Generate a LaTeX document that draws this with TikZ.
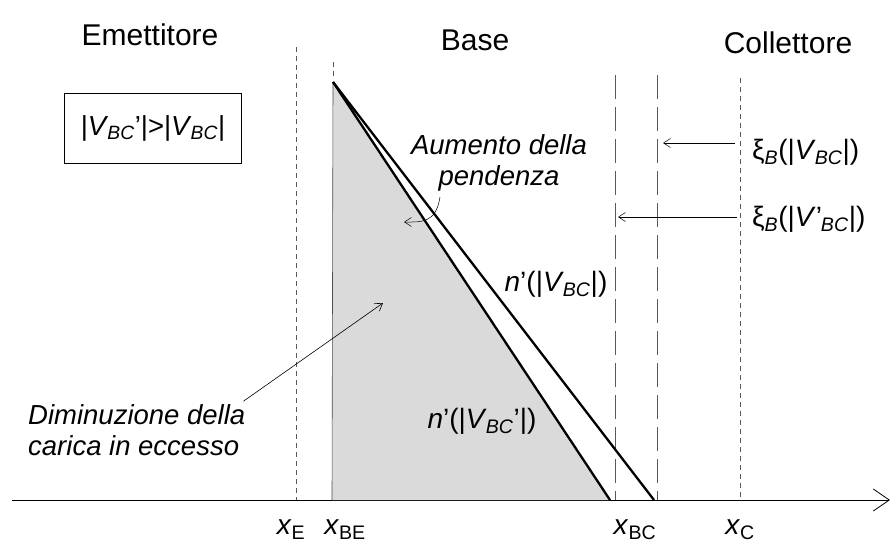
\documentclass[tikz,border=0pt]{standalone}
\usepackage{fontspec}
\setmainfont{Liberation Sans}
\usetikzlibrary{arrows.meta, positioning}
\definecolor{chargegray}{RGB}{218, 218, 218}
\newcommand{\Vbc}{\textit{V}\textsubscript{\kern-1pt\textit{BC}}}

\begin{document}
\begin{tikzpicture}[x=1pt, y=-1pt, >={Straight Barb[length=7pt, width=9pt]},
    every node/.style={font=\fontsize{28}{32}\selectfont, inner sep=0pt},
    region/.style={font=\fontsize{30}{34}\selectfont},
    note/.style={font=\fontsize{27.5}{31}\selectfont\itshape},
    shortdash/.style={gray!70!black, line width=0.6pt, dash pattern=on 5pt off 4pt},
    longdash/.style={gray!70!black, line width=0.7pt, dash pattern=on 24pt off 8pt},
    profile/.style={line width=2.3pt}]
  \useasboundingbox (0,0) rectangle (891,547);

  % regioni
  \node[region] (emit) at (150,35) {Emettitore};
  \node[region] (base) at (475,40) {Base};
  \node[region] (coll) at (788,43) {Collettore};
  \node[draw, line width=0.6pt, minimum width=177pt, minimum height=70pt,
        font=\fontsize{27.5}{32}\selectfont] (cond) at (153,128) {|\Vbc'|>|\Vbc|};

  % asse x
  \coordinate (orig) at (12,500);
  \coordinate (tip) at (890,500);
  \draw[line width=0.8pt, -{Straight Barb[length=16pt, width=22pt]}] (orig) -- (tip);

  % posizioni delle giunzioni
  \draw[shortdash] (296,47) -- (296,500);
  \draw[shortdash] (333,62) -- (333,78);
  \draw[longdash] (615,75) -- (615,500);
  \draw[longdash] (657,75) -- (657,500);
  \draw[shortdash] (740,78) -- (740,500);
  \foreach \n/\s/\x in {xE/E/291, xBE/BE/345, xBC/BC/635, xC/C/740}{
    \node (lab\n) at (\x,530) {\textit{x}\textsubscript{\s}};
  }

  % profili di carica
  \coordinate (apex) at (333,82);
  \coordinate (endin) at (610,500);
  \coordinate (endout) at (654,500);
  \coordinate (foot) at (332,500);
  \fill[chargegray] (apex) -- (endin) -- (foot) -- cycle;
  \draw[gray!60!black, line width=0.6pt] (apex) -- (foot);
  \draw[profile] (apex) -- (endin);
  \draw[profile] (apex) -- (endout);
  \node (nout) at (556,284) {\textit{n}'(|\Vbc|)};
  \node (nin) at (482,421) {\textit{n}'(|\Vbc'|)};

  % larghezza della base
  \node[anchor=west] (xi1) at (752,152) {ξ\textsubscript{\textit{B}}(|\Vbc|)};
  \node[anchor=west] (xi2) at (752,219) {ξ\textsubscript{\textit{B}}(|\textit{V}'\textsubscript{\kern-1pt\textit{BC}}|)};
  \coordinate (s1) at (735,143);
  \coordinate (w1) at (663,143);
  \coordinate (s2) at (737,217);
  \coordinate (w2) at (618,217);
  \draw[->, line width=0.5pt] (s1) -- (w1);
  \draw[->, line width=0.5pt] (s2) -- (w2);

  % commenti
  \node[note, align=center] (aum) at (499,163) {Aumento della\\pendenza};
  \coordinate (hook) at (440,197);
  \coordinate (slope) at (404,222);
  \draw[->, line width=0.5pt] (hook) .. controls (436,224) and (420,222) .. (slope);
  \node[note, align=left, anchor=west] (dim) at (28,430) {Diminuzione della\\carica in eccesso};
  \coordinate (excess) at (383,303);
  \draw[->, line width=0.6pt] ([xshift=-2pt, yshift=3pt]dim.north east) -- (excess);
\end{tikzpicture}
\end{document}
